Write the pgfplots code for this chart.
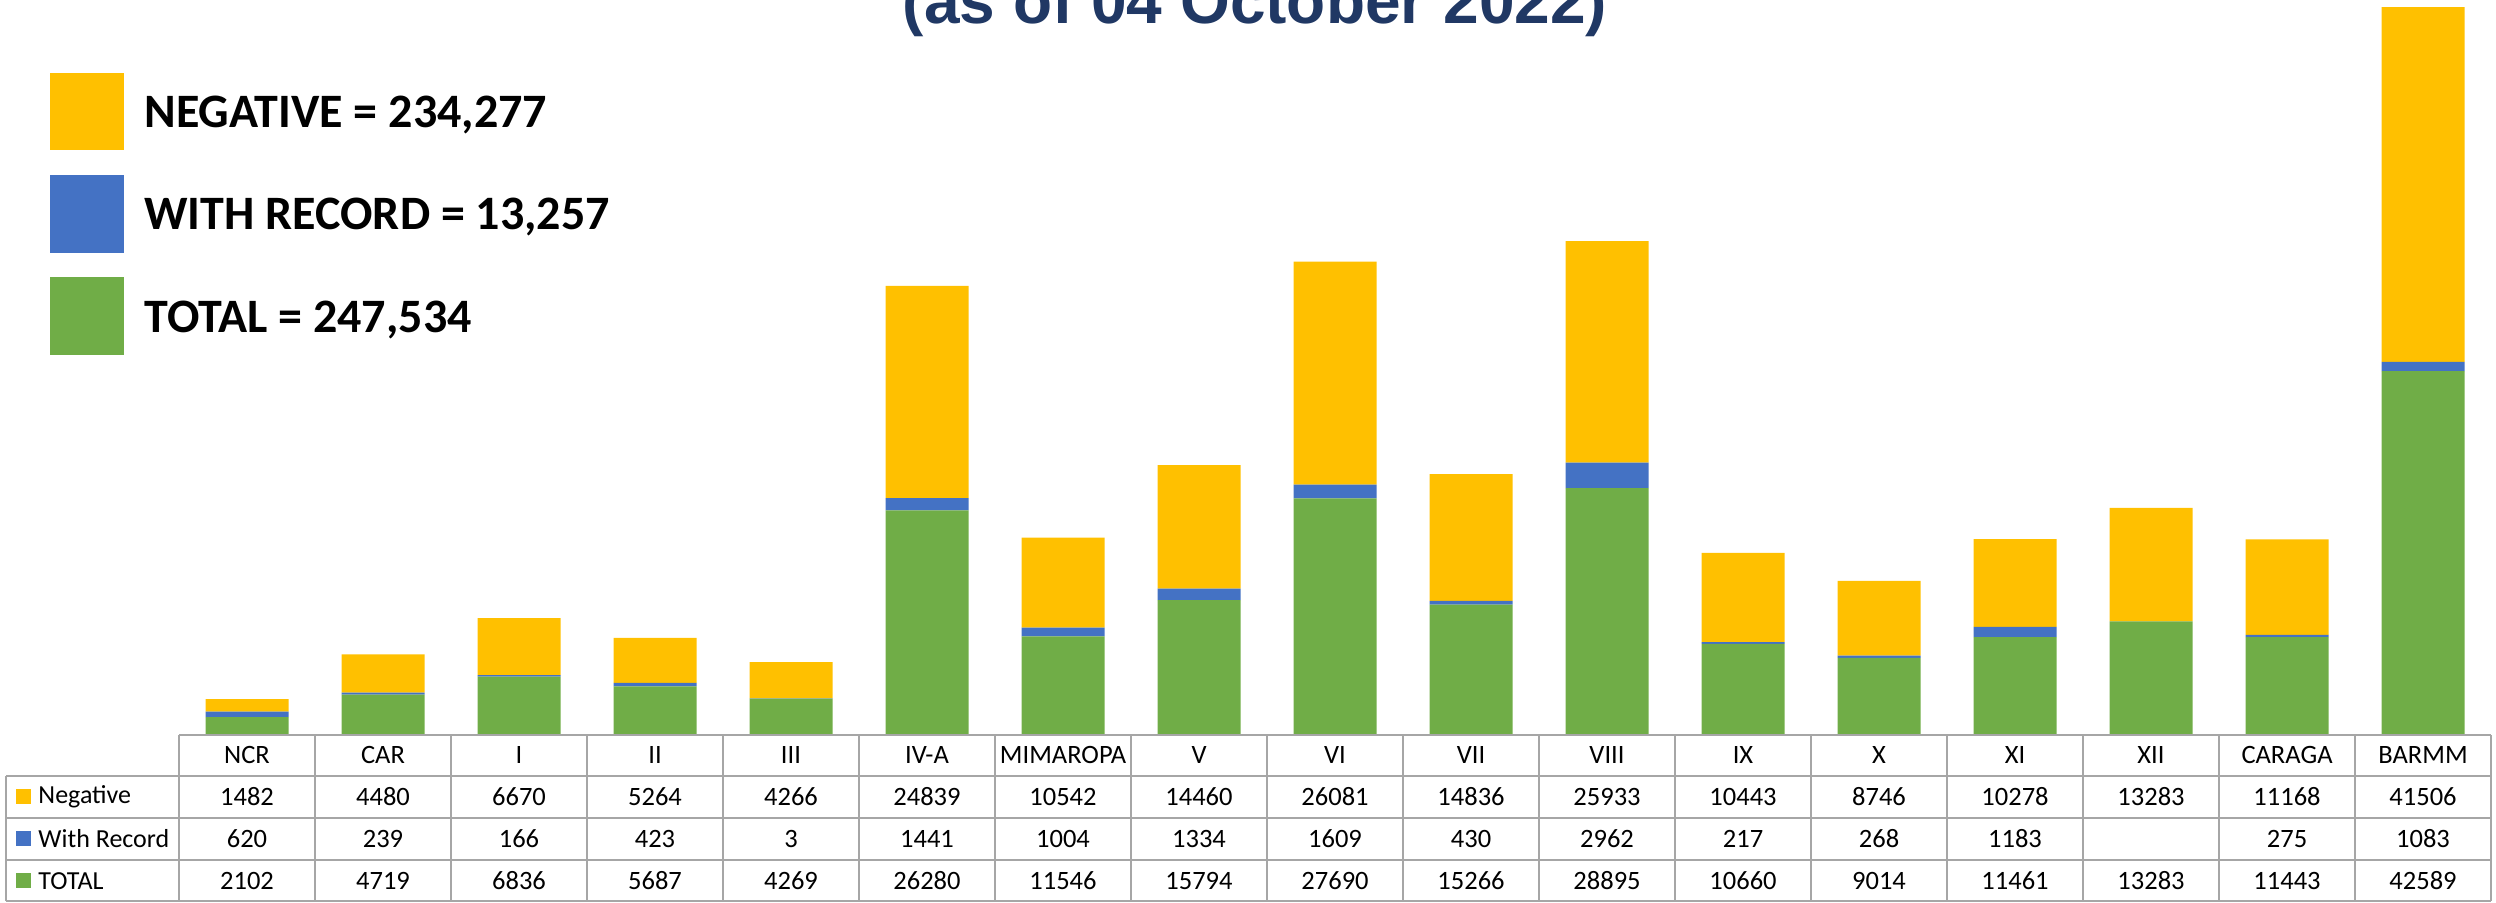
\documentclass[border=0pt]{standalone}
\usepackage{pgfplots}
\pgfplotsset{compat=1.18}
\usepackage{pgfplotstable}
\usepackage{fontspec}
\setmainfont{Carlito}
\newfontfamily\arialfont{Liberation Sans}

\definecolor{negc}{HTML}{FFC000}
\definecolor{recc}{HTML}{4472C4}
\definecolor{totc}{HTML}{70AD47}
\definecolor{titlec}{HTML}{203864}
\definecolor{gridc}{HTML}{A6A6A6}

% stacked from the bottom: total, with record, negative
\pgfplotstableread{
x negative record total
0  1482  620  2102
1  4480  239  4719
2  6670  166  6836
3  5264  423  5687
4  4266  3    4269
5  24839 1441 26280
6  10542 1004 11546
7  14460 1334 15794
8  26081 1609 27690
9  14836 430  15266
10 25933 2962 28895
11 10443 217  10660
12 8746  268  9014
13 10278 1183 11461
14 13283 0    13283
15 11168 275  11443
16 41506 1083 42589
}\regiondata

\begin{document}
\begin{tikzpicture}[x=0.4pt,y=0.4pt]
\useasboundingbox (0,0) rectangle (2496,902);
\coordinate (ax) at (179,167);

\begin{axis}[at={(ax)}, anchor=south west, scale only axis,
  width=924.8pt, height=294pt,
  ybar stacked, bar width=33.2pt,
  xmin=-0.5, xmax=16.5, ymin=0, ymax=86000,
  axis lines=none, ticks=none, clip=false]
\addplot[fill=totc, draw=none] table[x=x, y=total] {\regiondata};
\addplot[fill=recc, draw=none] table[x=x, y=record] {\regiondata};
\addplot[fill=negc, draw=none] table[x=x, y=negative] {\regiondata};
\end{axis}

% title (cut at the top edge, as in the source)
\node[anchor=base, text=titlec, font=\arialfont\bfseries\fontsize{25.6}{30}\selectfont]
  at (1255,878) {(as of 04 October 2022)};

% legend
\fill[negc] (50,752) rectangle (124,829);
\fill[recc] (50,649) rectangle (124,727);
\fill[totc] (50,547) rectangle (124,625);
\begin{scope}[every node/.style={anchor=base west, inner sep=0pt, font=\bfseries\fontsize{19.2}{22}\selectfont}]
\node at (144,774) {NEGATIVE = 234,277};
\node at (144,673) {WITH RECORD = 13,257};
\node at (144,570) {TOTAL = 247,534};
\end{scope}

% data table
\begin{scope}[gridc, line width=0.8pt]
\draw (179,167) -- (2491,167);
\foreach \yy in {126,84,42,1} \draw (6,\yy) -- (2491,\yy);
\draw (6,126) -- (6,1);
\foreach \k in {0,...,17} \draw ({179+136*\k},167) -- ({179+136*\k},1);
\end{scope}

\begin{scope}[every node/.style={anchor=center, inner sep=0pt, font=\fontsize{10.6}{12}\selectfont}]
\foreach \n [count=\i from 0] in {NCR,CAR,I,II,III,IV-A,MIMAROPA,V,VI,VII,VIII,IX,X,XI,XII,CARAGA,BARMM}
  \node at ({247+136*\i},147) {\n};
\foreach \v [count=\i from 0] in {1482,4480,6670,5264,4266,24839,10542,14460,26081,14836,25933,10443,8746,10278,13283,11168,41506}
  \node at ({247+136*\i},105) {\v};
\foreach \v [count=\i from 0] in {620,239,166,423,3,1441,1004,1334,1609,430,2962,217,268,1183,{},275,1083}
  \node at ({247+136*\i},63) {\v};
\foreach \v [count=\i from 0] in {2102,4719,6836,5687,4269,26280,11546,15794,27690,15266,28895,10660,9014,11461,13283,11443,42589}
  \node at ({247+136*\i},21) {\v};
\end{scope}

% row labels
\fill[negc] (16,98) rectangle (31,113);
\fill[recc] (16,56) rectangle (31,71);
\fill[totc] (16,14) rectangle (31,29);
\begin{scope}[every node/.style={anchor=west, inner sep=0pt, font=\fontsize{10.4}{12}\selectfont}]
\node at (38,105) {Negative};
\node at (38,63) {With Record};
\node at (38,21) {TOTAL};
\end{scope}
\end{tikzpicture}
\end{document}
